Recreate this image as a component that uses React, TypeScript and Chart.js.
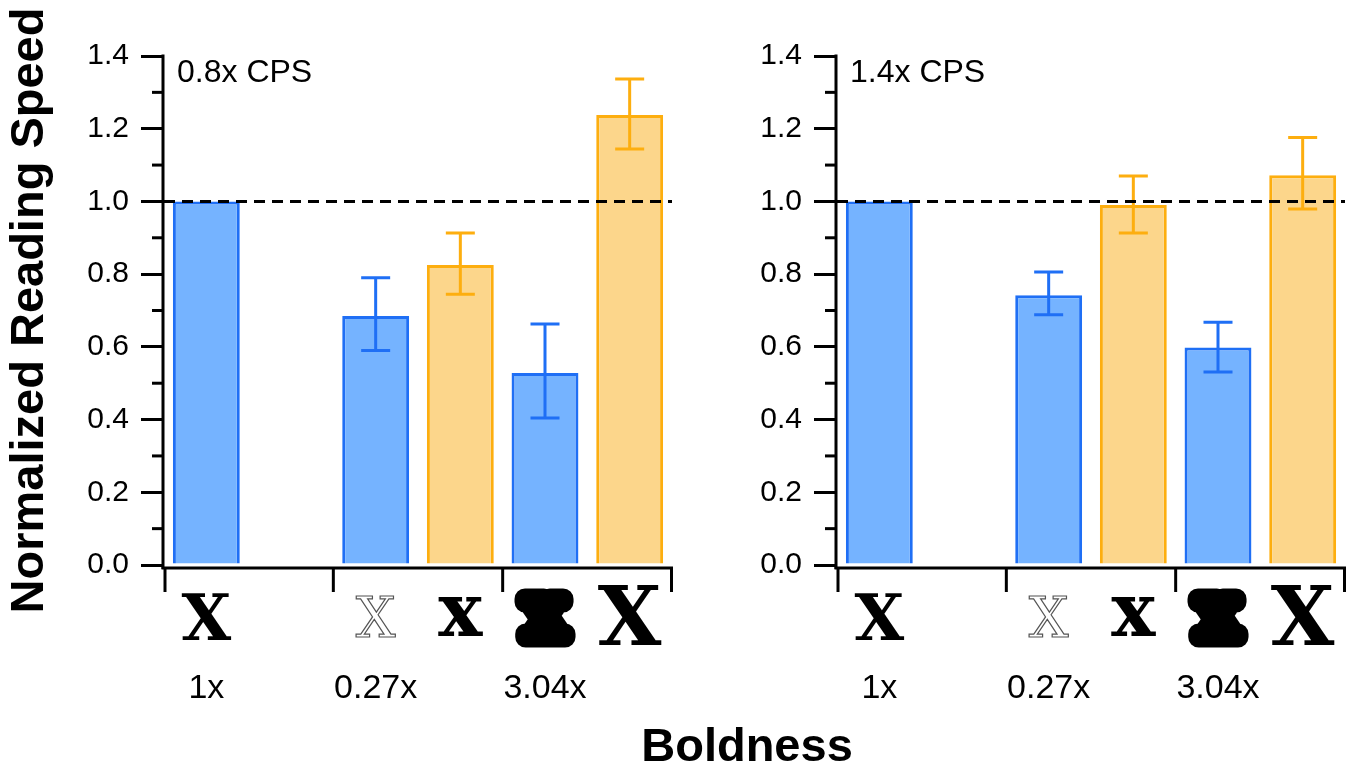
import React, { useEffect, useRef } from "react";
import { Chart, registerables } from "chart.js";

Chart.register(...registerables);

// ---- data ----
const slotKeys = ["1x", "gap", "0.27x-a", "0.27x-b", "3.04x-a", "3.04x-b"];
const slotSeries = ["blue", "", "blue", "orange", "blue", "orange"];
const slotGlyphs = ["X", "", "X", "x", "X", "X"];
const groupLabels = ["1x", "0.27x", "3.04x"];
const groupLabelSlots = [0, 2, 4];
const groupTickSlots = [0, 2, 4, 6];
const panelLabels = ["0.8x CPS", "1.4x CPS"];

const speed08 = [1.0, null, 0.685, 0.825, 0.528, 1.238];
const errLow08 = [null, null, 0.59, 0.745, 0.404, 1.144];
const errHigh08 = [null, null, 0.79, 0.913, 0.663, 1.337];

const speed14 = [1.0, null, 0.742, 0.99, 0.598, 1.072];
const errLow14 = [null, null, 0.688, 0.913, 0.531, 0.979];
const errHigh14 = [null, null, 0.806, 1.07, 0.668, 1.176];

const yMin = 0;
const yMax = 1.4;
const yStep = 0.2;
const yMinorStep = 0.1;
const referenceLevel = 1.0;

const yTitle = "Normalized Reading Speed";
const xTitle = "Boldness";

// ---- styles ----
const palette: Record<string, { fill: string; border: string }> = {
  blue: { fill: "#75b3ff", border: "#1f6ff5" },
  orange: { fill: "#fcd68b", border: "#fdae0f" },
};
const SANS = '"Liberation Sans", Arial, Helvetica, sans-serif';
const SERIF = '"DejaVu Serif", serif';
const LW = 3;

const glyphStyles: any[] = [
  { font: `bold 64px ${SERIF}`, mode: "fill", base: 75 },
  null,
  { font: `56px ${SERIF}`, mode: "stroke", lw: 1.2, color: "#555", base: 72 },
  { font: `bold 74px ${SERIF}`, mode: "fill", base: 71 },
  { font: `bold 52px ${SERIF}`, mode: "blob", lw: 21, base: 72 },
  { font: `bold 82px ${SERIF}`, mode: "fill", base: 80 },
];

function makePlugin(panelLabel: string, lows: (number | null)[], highs: (number | null)[]) {
  return {
    id: "panelDecor",
    afterDatasetsDraw(chart: any) {
      const ctx = chart.ctx;
      const x = chart.scales.x;
      const y = chart.scales.y;
      const area = chart.chartArea;
      ctx.save();
      // error bars
      ctx.lineWidth = LW;
      for (let i = 0; i < slotKeys.length; i++) {
        const lo = lows[i];
        const hi = highs[i];
        if (lo == null || hi == null) continue;
        const cx = x.getPixelForValue(i);
        const y1 = y.getPixelForValue(lo);
        const y2 = y.getPixelForValue(hi);
        ctx.strokeStyle = palette[slotSeries[i]].border;
        ctx.beginPath();
        ctx.moveTo(cx, y1);
        ctx.lineTo(cx, y2);
        ctx.moveTo(cx - 14.5, y1);
        ctx.lineTo(cx + 14.5, y1);
        ctx.moveTo(cx - 14.5, y2);
        ctx.lineTo(cx + 14.5, y2);
        ctx.stroke();
      }
      // dashed reference line
      const yr = y.getPixelForValue(referenceLevel);
      ctx.strokeStyle = "#000";
      ctx.lineWidth = LW;
      ctx.setLineDash([11, 7]);
      ctx.beginPath();
      ctx.moveTo(area.left, yr);
      ctx.lineTo(area.right, yr);
      ctx.stroke();
      ctx.setLineDash([]);
      ctx.restore();
    },
    afterDraw(chart: any) {
      const ctx = chart.ctx;
      const x = chart.scales.x;
      const y = chart.scales.y;
      const area = chart.chartArea;
      const slotW = (area.right - area.left) / slotKeys.length;
      ctx.save();
      ctx.strokeStyle = "#000";
      ctx.fillStyle = "#000";
      ctx.lineWidth = LW;
      // y axis line
      ctx.beginPath();
      ctx.moveTo(area.left - 1, area.top - 1.5);
      ctx.lineTo(area.left - 1, area.bottom + 4);
      ctx.stroke();
      // minor ticks
      for (let v = yMin + yMinorStep; v < yMax; v += yStep) {
        const py = y.getPixelForValue(v);
        ctx.beginPath();
        ctx.moveTo(area.left - 12, py);
        ctx.lineTo(area.left - 1, py);
        ctx.stroke();
      }
      // x axis line
      const xb = area.bottom + 3;
      ctx.beginPath();
      ctx.moveTo(area.left - 2.5, xb);
      ctx.lineTo(area.right + 1, xb);
      ctx.stroke();
      for (const s of groupTickSlots) {
        const px = Math.min(area.left + s * slotW, area.right - 0.5) + (s === 0 ? 1 : 0);
        ctx.beginPath();
        ctx.moveTo(px, xb);
        ctx.lineTo(px, xb + 24);
        ctx.stroke();
      }
      // glyphs
      ctx.textAlign = "center";
      ctx.textBaseline = "alphabetic";
      for (let i = 0; i < slotGlyphs.length; i++) {
        const g = slotGlyphs[i];
        const st = glyphStyles[i];
        if (!g || !st) continue;
        const cx = x.getPixelForValue(i);
        const by = area.bottom + st.base;
        ctx.font = st.font;
        if (st.mode === "fill") {
          ctx.fillStyle = "#000";
          ctx.fillText(g, cx, by);
        } else if (st.mode === "stroke") {
          ctx.strokeStyle = st.color;
          ctx.lineWidth = st.lw;
          ctx.strokeText(g, cx, by);
        } else {
          ctx.fillStyle = "#000";
          ctx.strokeStyle = "#000";
          ctx.lineWidth = st.lw;
          ctx.lineJoin = "round";
          ctx.fillText(g, cx, by);
          ctx.strokeText(g, cx, by);
        }
      }
      // group labels
      ctx.fillStyle = "#000";
      ctx.font = `34px ${SANS}`;
      groupLabels.forEach((lab, k) => {
        const cx = x.getPixelForValue(groupLabelSlots[k]);
        ctx.fillText(lab, cx, area.bottom + 133);
      });
      // panel label
      ctx.textAlign = "left";
      ctx.font = `32px ${SANS}`;
      ctx.fillText(panelLabel, area.left + 13, area.top + 26);
      ctx.restore();
    },
  };
}

function Panel(props: {
  width: number;
  height: number;
  axisWidth: number;
  padRight: number;
  values: (number | null)[];
  lows: (number | null)[];
  highs: (number | null)[];
  label: string;
  showTitle: boolean;
}) {
  const ref = useRef<HTMLCanvasElement | null>(null);
  useEffect(() => {
    if (!ref.current) return;
    const chart = new Chart(ref.current, {
      type: "bar",
      data: {
        labels: slotKeys,
        datasets: [
          {
            data: props.values as any,
            backgroundColor: slotSeries.map((s) => (s ? palette[s].fill : "transparent")),
            borderColor: slotSeries.map((s) => (s ? palette[s].border : "transparent")),
            borderWidth: LW,
            barPercentage: 0.79,
            categoryPercentage: 1,
          },
        ],
      },
      options: {
        responsive: false,
        animation: false,
        events: [],
        layout: { padding: { top: 56, bottom: props.height - 565, right: props.padRight, left: 0 } },
        plugins: { legend: { display: false }, tooltip: { enabled: false }, title: { display: false } },
        scales: {
          x: { display: false },
          y: {
            min: yMin,
            max: yMax,
            afterFit: (scale: any) => {
              scale.width = props.axisWidth;
            },
            ticks: {
              stepSize: yStep,
              padding: 12,
              color: "#000",
              font: { family: SANS, size: 30 },
              callback: (v: any) => Number(v).toFixed(1),
            },
            grid: {
              drawOnChartArea: false,
              drawTicks: true,
              tickLength: 23,
              color: "#000",
              lineWidth: LW,
            },
            border: { display: false },
            title: {
              display: props.showTitle,
              text: yTitle,
              color: "#000",
              font: { family: SANS, size: 47, weight: "bold" },
              padding: { top: 2, bottom: 0 },
            },
          },
        },
      },
      plugins: [makePlugin(props.label, props.lows, props.highs)],
    } as any);
    return () => chart.destroy();
  }, []);
  return <canvas ref={ref} width={props.width} height={props.height} style={{ display: "block" }} />;
}

export default function App() {
  return (
    <div
      style={{
        position: "fixed",
        left: 0,
        top: 0,
        width: 1355,
        height: 773,
        background: "#fff",
        overflow: "hidden",
      }}
    >
      <div style={{ position: "absolute", left: 0, top: 0 }}>
        <Panel
          width={700}
          height={773}
          axisWidth={164}
          padRight={28}
          values={speed08}
          lows={errLow08}
          highs={errHigh08}
          label={panelLabels[0]}
          showTitle={true}
        />
      </div>
      <div style={{ position: "absolute", left: 700, top: 0 }}>
        <Panel
          width={655}
          height={773}
          axisWidth={137}
          padRight={10}
          values={speed14}
          lows={errLow14}
          highs={errHigh14}
          label={panelLabels[1]}
          showTitle={false}
        />
      </div>
      <div
        style={{
          position: "absolute",
          left: 747,
          top: 722,
          transform: "translateX(-50%)",
          fontFamily: SANS,
          fontWeight: "bold",
          fontSize: 47,
          lineHeight: "46px",
          whiteSpace: "nowrap",
          color: "#000",
        }}
      >
        {xTitle}
      </div>
    </div>
  );
}
